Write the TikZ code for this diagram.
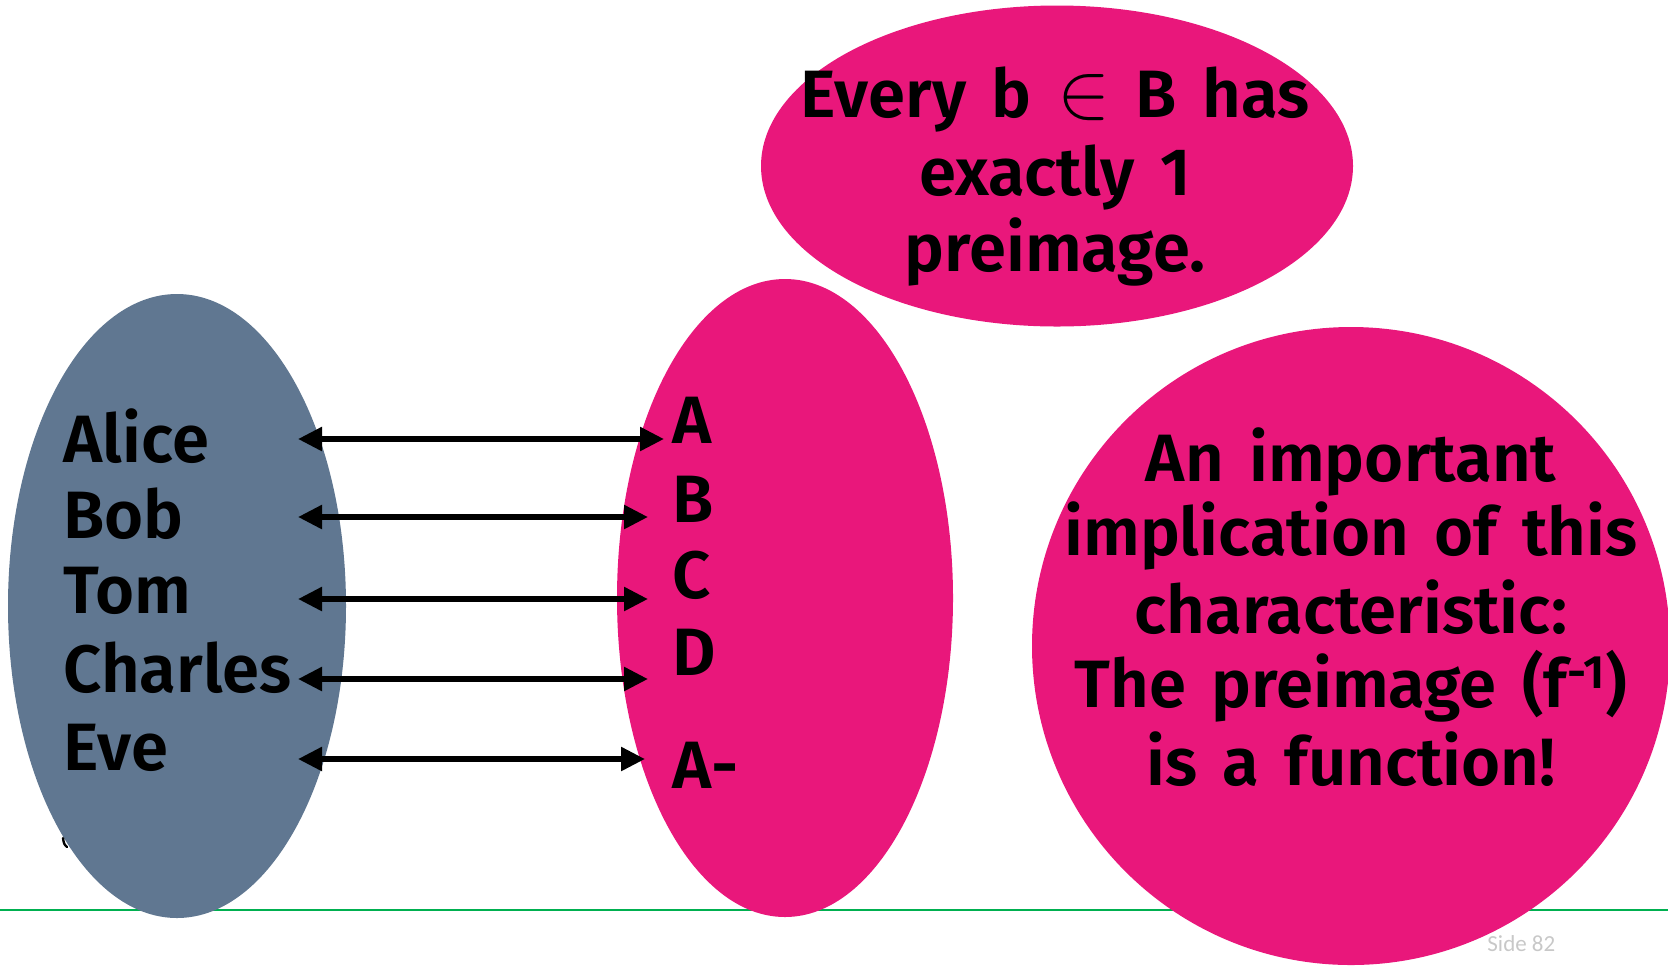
\documentclass[tikz,border=0pt]{standalone}
\usepackage{fontspec}
\setmainfont{Fira Sans}[BoldFont={Fira Sans SemiBold}]
\newfontfamily\sidefont{Carlito}
\usetikzlibrary{arrows.meta,shapes.geometric}
\definecolor{setgray}{RGB}{96,119,145}
\definecolor{setpink}{RGB}{233,23,123}
\definecolor{slidegreen}{RGB}{0,176,80}
\definecolor{sidegray}{RGB}{200,200,200}
\newcommand\slidebigfont{\fontsize{33.5}{38}\selectfont\bfseries\spaceskip=0.38em plus 0.1em\relax}
\begin{document}
\begin{tikzpicture}[x=0.5pt,y=-0.5pt,
  blob/.style={ellipse,inner sep=0pt,draw=none},
  big/.style={font=\slidebigfont,inner sep=0pt},
  lbl/.style={big,anchor=base west},
  line/.style={big,anchor=base},
  conn/.style={line width=2.75pt,{Triangle[length=12pt,width=11.5pt]}-{Triangle[length=12pt,width=11.5pt]}}]
\useasboundingbox (0,0) rectangle (1668,965);
% slide rule
\coordinate (gl) at (0,910);
\coordinate (gr) at (1668,910);
\draw[slidegreen,line width=1.1pt] (gl) -- (gr);
% sets
\node[blob,fill=setgray,minimum width=169pt,minimum height=312pt] (setA) at (177,606) {};
\node[blob,fill=setpink,minimum width=168pt,minimum height=319pt] (setB) at (785,598) {};
\node[blob,fill=setpink,minimum width=296pt,minimum height=160.5pt] (note) at (1057,166) {};
\node[circle,inner sep=0pt,fill=setpink,minimum size=319pt] (impl) at (1351,646) {};
% small residual mark
\draw[line width=1.2pt,line cap=round] (63,838) .. controls (64,844) .. (67,847);
% left names
\node[lbl] (alice) at (63,462) {Alice};
\node[lbl] (bob) at (63,538) {Bob};
\node[lbl] (tom) at (63,613) {Tom};
\node[lbl] (charles) at (63,692) {Charles};
\node[lbl] (eve) at (63,770) {Eve};
% right grades
\node[lbl] (gA) at (672,443) {A};
\node[lbl] (gB) at (672,522) {B};
\node[lbl] (gC) at (672,598) {C};
\node[lbl] (gD) at (672,675) {D};
\node[lbl] (gAm) at (672,788) {A-};
% arrow ends
\coordinate (l1) at (298,439); \coordinate (r1) at (664,439);
\coordinate (l2) at (298,517); \coordinate (r2) at (648,517);
\coordinate (l3) at (298,599); \coordinate (r3) at (648,599);
\coordinate (l4) at (298,679); \coordinate (r4) at (648,679);
\coordinate (l5) at (298,759); \coordinate (r5) at (645,759);
\draw[conn] (l1) -- (r1);
\draw[conn] (l2) -- (r2);
\draw[conn] (l3) -- (r3);
\draw[conn] (l4) -- (r4);
\draw[conn] (l5) -- (r5);
% note text
\node[line] (n1) at (1055,117) {Every b \scalebox{1.6}{$\in$} B has};
\node[line] (n2) at (1055,195) {exactly 1};
\node[line] (n3) at (1055,271) {preimage.};
% implication text
\node[line] (i1) at (1351,481) {An important};
\node[line] (i2) at (1351,555) {implication of this};
\node[line] (i3) at (1351,633) {characteristic:};
\node[line] (i4) at (1351,707) {The preimage (f\textsuperscript{-1})};
\node[line] (i5) at (1351,785) {is a function!};
% slide number
\node[anchor=base west,inner sep=0pt,text=sidegray,font=\sidefont\fontsize{11.5}{13}\selectfont] (side) at (1487,951) {Side 82};
\end{tikzpicture}
\end{document}
